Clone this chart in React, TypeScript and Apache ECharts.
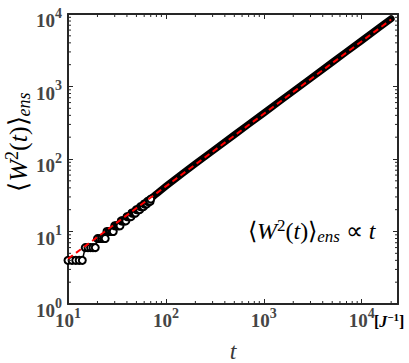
import React, { useEffect, useRef } from "react";
import * as echarts from "echarts";

// Axis ranges
const X_MIN = 10;
const X_MAX = 23500;
const Y_MIN = 1;
const Y_MAX = 10000;

// Early step data (integer t)
const tEarly = [10, 11, 12, 13, 14, 15, 16, 17, 18, 19, 20, 21, 22, 23, 24, 25, 26, 27, 28, 29, 30, 31, 32, 33, 34, 35, 36, 37, 38, 39, 40, 41, 42, 43, 44, 45, 46, 47, 48, 49, 50, 51, 52, 53, 54, 55, 56, 57, 58, 59, 60, 61, 62, 63, 64, 65, 66, 67, 68, 69, 70];
const wEarly = [4, 4, 4, 4, 4, 6, 6, 6, 6, 6, 8, 8, 8, 8, 8, 10, 10, 10, 10, 10, 12, 12, 12, 12, 12, 14, 14, 14, 14, 14, 16, 16, 16, 16, 16, 18, 18, 18, 18, 18, 20, 20, 20, 20, 20, 22, 22, 22, 22, 22, 24, 24, 24, 24, 24, 26, 26, 26, 26, 26, 28];

// Later (dense, merged) data
const tLate = [65, 80, 100, 150, 200, 300, 500, 700, 1000, 1500, 2000, 3000, 5000, 7000, 10000, 15000, 20000];
const wLate = [26, 33, 42, 64, 86, 129, 215, 301, 430, 645, 860, 1290, 2150, 3010, 4300, 6450, 8600];

// Fit line <W^2> ∝ t
const tFit = [10, 20000];
const wFit = [4.2, 8400];

// Minor tick values
const xMinor = [20, 30, 40, 50, 60, 70, 80, 90, 200, 300, 400, 500, 600, 700, 800, 900, 2000, 3000, 4000, 5000, 6000, 7000, 8000, 9000, 20000];
const yMinor = [2, 3, 4, 5, 6, 7, 8, 9, 20, 30, 40, 50, 60, 70, 80, 90, 200, 300, 400, 500, 600, 700, 800, 900, 2000, 3000, 4000, 5000, 6000, 7000, 8000, 9000];

const AX = "#262626";
const LAB = "#454545";
const SERIF = "Liberation Serif";

const labelFormatter = (v: number) => {
  const e = Math.log10(v);
  if (Math.abs(e - Math.round(e)) > 1e-6) return "";
  return `{b|10}{s|${Math.round(e)}}`;
};

const labelRich = {
  b: { fontSize: 19, fontWeight: "bold", fontFamily: SERIF, color: LAB, lineHeight: 24, verticalAlign: "bottom" },
  s: { fontSize: 14, fontWeight: "bold", fontFamily: SERIF, color: LAB, lineHeight: 14, verticalAlign: "top" },
};

const mathRich = (color: string, size: number) => ({
  a: { fontSize: size, fontFamily: SERIF, color, lineHeight: size + 4, verticalAlign: "middle" },
  i: { fontSize: size, fontFamily: SERIF, fontStyle: "italic", color, lineHeight: size + 4, verticalAlign: "middle" },
  s: { fontSize: Math.round(size * 0.7), fontFamily: SERIF, color, lineHeight: Math.round(size * 0.7), verticalAlign: "top" },
  sub: { fontSize: Math.round(size * 0.7), fontFamily: SERIF, fontStyle: "italic", color, lineHeight: Math.round(size * 0.7), verticalAlign: "bottom" },
});

export default function App() {
  const ref = useRef<HTMLDivElement>(null);
  useEffect(() => {
    if (!ref.current) return;
    const chart = echarts.init(ref.current, undefined, { renderer: "svg" });
    const tickStyle = { color: AX, width: 1 };
    const option: any = {
      animation: false,
      backgroundColor: "#fff",
      textStyle: { fontFamily: SERIF },
      grid: { left: 68, right: 11, top: 14, bottom: 59, containLabel: false, outerBoundsMode: "none" },
      xAxis: [
        {
          type: "log", logBase: 10, min: X_MIN, max: X_MAX, position: "bottom",
          axisLine: { show: true, lineStyle: { color: AX, width: 2 } },
          axisTick: { show: true, inside: true, length: 5, lineStyle: tickStyle },
          axisLabel: { show: true, margin: 2, formatter: labelFormatter, rich: labelRich, showMaxLabel: false, fontFamily: SERIF },
          splitLine: { show: false },
        },
        {
          type: "log", logBase: 10, min: X_MIN, max: X_MAX, position: "top",
          axisLine: { show: true, lineStyle: { color: AX, width: 2 } },
          axisTick: { show: true, inside: true, length: 5, lineStyle: tickStyle },
          axisLabel: { show: false },
          splitLine: { show: false },
        },
      ],
      yAxis: [
        {
          type: "log", logBase: 10, min: Y_MIN, max: Y_MAX, position: "left",
          axisLine: { show: true, lineStyle: { color: AX, width: 2 } },
          axisTick: { show: true, inside: true, length: 5, lineStyle: tickStyle },
          axisLabel: { show: true, margin: 6, formatter: labelFormatter, rich: labelRich, padding: [8, 0, 0, 0], fontFamily: SERIF },
          splitLine: { show: false },
        },
        {
          type: "log", logBase: 10, min: Y_MIN, max: Y_MAX, position: "right",
          axisLine: { show: true, lineStyle: { color: AX, width: 2 } },
          axisTick: { show: true, inside: true, length: 5, lineStyle: tickStyle },
          axisLabel: { show: false },
          splitLine: { show: false },
        },
      ],
      series: [
        {
          type: "custom", xAxisIndex: 0, yAxisIndex: 0, silent: true, clip: false, z: 5,
          data: xMinor.map((v) => [v, Y_MIN]),
          renderItem: (_p: any, api: any) => {
            const v = api.value(0);
            const b = api.coord([v, Y_MIN]);
            const t = api.coord([v, Y_MAX]);
            return {
              type: "group",
              children: [
                { type: "line", shape: { x1: b[0], y1: b[1], x2: b[0], y2: b[1] - 3 }, style: { stroke: AX, lineWidth: 1 } },
                { type: "line", shape: { x1: t[0], y1: t[1], x2: t[0], y2: t[1] + 3 }, style: { stroke: AX, lineWidth: 1 } },
              ],
            };
          },
        },
        {
          type: "custom", xAxisIndex: 0, yAxisIndex: 0, silent: true, clip: false, z: 5,
          data: yMinor.map((v) => [X_MIN, v]),
          renderItem: (_p: any, api: any) => {
            const v = api.value(1);
            const l = api.coord([X_MIN, v]);
            const r = api.coord([X_MAX, v]);
            return {
              type: "group",
              children: [
                { type: "line", shape: { x1: l[0], y1: l[1], x2: l[0] + 3, y2: l[1] }, style: { stroke: AX, lineWidth: 1 } },
                { type: "line", shape: { x1: r[0], y1: r[1], x2: r[0] - 3, y2: r[1] }, style: { stroke: AX, lineWidth: 1 } },
              ],
            };
          },
        },
        {
          type: "line", xAxisIndex: 0, yAxisIndex: 0, z: 3,
          data: tLate.map((t, i) => [t, wLate[i]]),
          symbol: "none",
          lineStyle: { color: "#000", width: 7, cap: "round", join: "round" },
        },
        {
          type: "line", xAxisIndex: 0, yAxisIndex: 0, z: 4,
          data: tEarly.map((t, i) => [t, wEarly[i]]),
          symbol: "circle", symbolSize: 7, showSymbol: true,
          itemStyle: { color: "#fff", borderColor: "#000", borderWidth: 2 },
          lineStyle: { color: "#000", width: 1.5 },
        },
        {
          type: "line", xAxisIndex: 0, yAxisIndex: 0, z: 6,
          data: tFit.map((t, i) => [t, wFit[i]]),
          symbol: "none",
          lineStyle: { color: "#ff0000", width: 2, type: [6, 4] },
        },
      ],
      graphic: [
        {
          type: "text", x: 18, y: 142, rotation: Math.PI / 2,
          style: {
            text: "{a|⟨}{i|W}{s|2}{a|(}{i|t}{a|)⟩}{sub|ens}",
            rich: mathRich("#3a3a3a", 26),
            fontFamily: SERIF,
            align: "center", verticalAlign: "middle",
          },
        },
        {
          type: "text", x: 233, y: 351,
          style: {
            text: "t", fontSize: 24, fontStyle: "italic", fontFamily: SERIF, fill: "#3a3a3a",
            align: "center", verticalAlign: "middle",
          },
        },
        {
          type: "text", x: 248, y: 231,
          style: {
            text: "{a|⟨}{i|W}{s|2}{a|(}{i|t}{a|)⟩}{sub|ens}{a| ∝ }{i|t}",
            rich: mathRich("#111", 24),
            fontFamily: SERIF,
            align: "left", verticalAlign: "middle",
          },
        },
        {
          type: "text", x: 374, y: 321,
          style: {
            text: "{a|[}{i|J}{s|−1}{a|]}",
            fontFamily: SERIF,
            rich: {
              a: { fontSize: 16, fontFamily: SERIF, fontWeight: "bold", color: LAB, lineHeight: 20, verticalAlign: "middle" },
              i: { fontSize: 16, fontFamily: SERIF, fontStyle: "italic", fontWeight: "bold", color: LAB, lineHeight: 20, verticalAlign: "middle" },
              s: { fontSize: 11, fontFamily: SERIF, fontWeight: "bold", color: LAB, lineHeight: 12, verticalAlign: "top" },
            },
            align: "left", verticalAlign: "middle",
          },
        },
      ],
    };
    chart.setOption(option);
    return () => chart.dispose();
  }, []);
  return <div ref={ref} style={{ position: "fixed", left: 0, top: 0, width: 409, height: 363 }} />;
}
